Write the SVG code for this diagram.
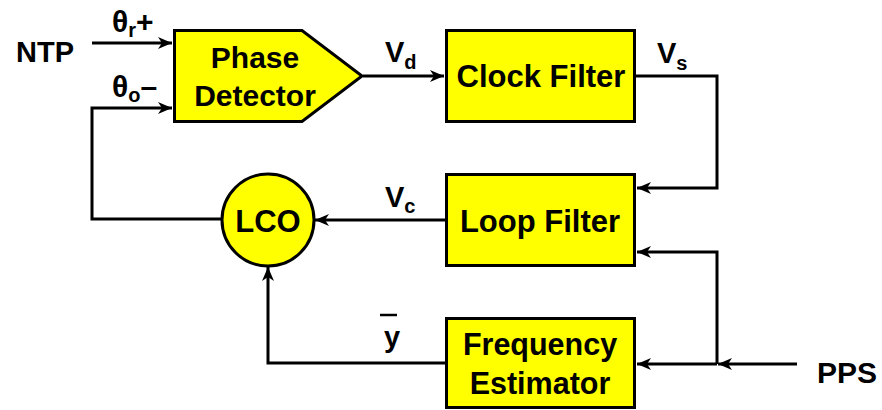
<svg xmlns="http://www.w3.org/2000/svg" width="882" height="410" viewBox="0 0 882 410">
<style>
.blk{fill:#ffff00;stroke:#000;stroke-width:3}
.t{font-family:"Liberation Sans",Arial,sans-serif;font-weight:bold;fill:#000}
.c{stroke:#000;stroke-width:3;fill:none;marker-end:url(#ah)}
</style>
<defs>
<marker id="ah" viewBox="0 0 16 14" refX="15" refY="7" markerWidth="16" markerHeight="14" markerUnits="userSpaceOnUse" orient="auto">
<path d="M1,1 L15,7 L1,13 L5,7 Z" fill="#000"/>
</marker>
</defs>
<rect width="882" height="410" fill="#fff"/>
<g id="connectors">
<path class="c" d="M92,43 H172"/>
<path class="c" d="M222,219 H92 V108 H172"/>
<path class="c" d="M363,76 H444"/>
<path class="c" d="M636,76 H717 V188 H637"/>
<path class="c" d="M445,220 H315"/>
<path class="c" d="M797,364 H718"/>
<path class="c" d="M717,364 V252 H637"/>
<path class="c" d="M717,364 H637"/>
<path class="c" d="M445,363 H268 V267"/>
</g>
<g class="t" font-size="29">
<text x="16" y="62">NTP</text>
<text x="112" y="32" font-size="30">θ<tspan font-size="20" dy="5">r</tspan><tspan dy="-5">+</tspan></text>
<text x="112" y="97" font-size="30">θ<tspan font-size="20" dy="5">o</tspan><tspan dy="-5">–</tspan></text>
<text x="385" y="62">V<tspan font-size="20" dy="7">d</tspan></text>
<text x="657" y="63">V<tspan font-size="20" dy="7">s</tspan></text>
<text x="385" y="207">V<tspan font-size="20" dy="6">c</tspan></text>
<line x1="380" y1="315" x2="397" y2="315" stroke="#000" stroke-width="2.5"/>
<text x="384" y="347">y</text>
<text x="817" y="383" font-size="30">PPS</text>
</g>
<g id="phase-detector">
<polygon class="blk" points="174.5,30.5 302,30.5 362,76 302,121.5 174.5,121.5"/>
<text class="t" x="255" y="68" font-size="30" text-anchor="middle">Phase</text>
<text class="t" x="255" y="106" font-size="30" text-anchor="middle">Detector</text>
</g>
<g id="clock-filter">
<rect class="blk" x="446.5" y="30.5" width="188" height="91"/>
<text class="t" x="541" y="87" font-size="31" text-anchor="middle">Clock Filter</text>
</g>
<g id="loop-filter">
<rect class="blk" x="446.5" y="174.5" width="188" height="91"/>
<text class="t" x="540" y="232" font-size="31" text-anchor="middle">Loop Filter</text>
</g>
<g id="frequency-estimator">
<rect class="blk" x="446.5" y="318.5" width="188" height="89"/>
<text class="t" x="540" y="355" font-size="30.5" text-anchor="middle">Frequency</text>
<text class="t" x="540" y="394" font-size="30.5" text-anchor="middle">Estimator</text>
</g>
<g id="lco">
<circle class="blk" cx="268" cy="220" r="46"/>
<text class="t" x="268" y="232" font-size="31" text-anchor="middle">LCO</text>
</g>
</svg>
